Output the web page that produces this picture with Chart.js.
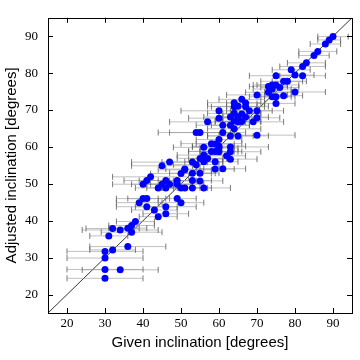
<!DOCTYPE html>
<html>
<head>
<meta charset="utf-8">
<script src="https://cdn.jsdelivr.net/npm/chart.js@4"></script>
<style>
html,body{margin:0;padding:0;background:#fff}
</style>
</head>
<body>
<canvas id="myChart" width="360" height="360"></canvas>
<script>
// given inclination (x), adjusted inclination (y), error on the given value
const givenIncl = [30,30,34,30,30,32,36,31,32,34,36,37,37,38,41,43,44,46,46,39,40,41,49,50,
  40,41,42,44,45,46,46,47,49,49,50,51,53,50,51,53,53,54,45,47,55,56,55,53,51,56,55,57,56,59,
  59,58,60,59,58,60,56,54,55,61,63,62,63,60,63,60,59,63,65,64,70,61,61,63,57,65,66,69,64,60,
  70,63,65,67,64,66,60,68,70,64,67,65,64,67,66,70,75,74,75,77,73,74,80,73,74,75,76,77,78,75,
  80,82,79,82,83,85,86,88,89,90];
const adjustedIncl = [24.4,26.8,26.7,29.9,31.7,32.1,33.0,35.9,37.9,37.5,38.0,38.7,36.9,39.8,
  43.8,42.9,41.1,43.8,41.9,44.9,46.0,46.0,46.0,44.9,49.9,50.9,51.9,48.9,49.9,50.9,48.9,49.9,
  50.9,49.9,48.9,48.9,48.9,52.8,53.8,50.9,55.9,55.2,54.9,55.9,50.8,48.9,52.9,52.9,54.0,56.0,
  56.9,56.9,57.8,56.0,54.0,58.8,59.7,58.8,60.9,62.0,59.9,63.9,63.9,54.1,56.7,57.6,58.7,58.7,
  60.0,60.2,60.8,63.0,63.0,64.9,63.2,63.9,65.9,65.9,66.8,66.8,66.9,66.8,67.0,67.8,67.9,68.1,
  68.1,68.1,69.1,68.9,69.8,69.8,69.8,70.9,70.9,71.0,72.0,71.9,72.9,74.1,71.8,73.6,73.6,73.9,
  74.8,75.7,74.9,76.4,76.8,76.8,76.1,77.8,77.8,79.3,79.5,79.3,80.9,81.8,82.8,84.8,85.9,87.9,
  89.0,89.9];
const givenErr = [10,10,10,10,10,6,10,5,7,10,5,6,8,5,8,6,5,8,6,6,7,5,5,6,8,6,10,6,8,7,5,6,5,7,
  5,6,5,8,7,5,8,6,8,10,6,7,5,6,5,5,6,5,7,6,5,6,5,7,8,6,8,10,8,6,7,5,8,5,10,7,5,6,8,7,10,6,7,5,
  10,6,5,8,5,8,6,7,5,6,7,5,10,6,7,6,5,8,7,5,6,8,5,6,4,5,6,5,8,5,4,6,5,6,4,7,5,6,5,6,5,4,5,4,3,4];
const tickVals = [20,30,40,50,60,70,80,90];
const axisMin = 15;
const axisMax = 95;

let points = [];
let bars = [];
givenIncl.forEach((g, i) => {
  points.push({x: g, y: adjustedIncl[i]});
  bars.push({x: g - givenErr[i], y: adjustedIncl[i]});
  bars.push({x: g + givenErr[i], y: adjustedIncl[i]});
  bars.push({x: null, y: null});
});

// box round the plot with matplotlib-like inward ticks on all sides
const frameTicks = {
  id: 'frameTicks',
  afterDatasetsDraw(chart) {
    const c = chart.ctx;
    const a = chart.chartArea;
    const sx = chart.scales.x;
    const sy = chart.scales.y;
    c.save();
    c.strokeStyle = '#000';
    c.lineWidth = 1;
    c.strokeRect(Math.round(a.left) + 0.5, Math.round(a.top) + 0.5,
      Math.round(a.right - a.left), Math.round(a.bottom - a.top));
    c.beginPath();
    tickVals.forEach(v => {
      let px = Math.round(sx.getPixelForValue(v)) + 0.5;
      c.moveTo(px, a.bottom); c.lineTo(px, a.bottom - 5);
      c.moveTo(px, a.top); c.lineTo(px, a.top + 5);
      let py = Math.round(sy.getPixelForValue(v)) + 0.5;
      c.moveTo(a.left, py); c.lineTo(a.left + 5, py);
      c.moveTo(a.right, py); c.lineTo(a.right - 5, py);
    });
    c.stroke();
    c.restore();
  }
};

new Chart(document.getElementById('myChart'), {
  type: 'scatter',
  data: {
    datasets: [{
      data: points,
      backgroundColor: '#0000ff',
      borderColor: '#0000ff',
      pointRadius: 3.5,
      borderWidth: 0,
      order: 0
    }, {
      data: bars,
      showLine: true,
      borderColor: 'rgba(150,150,150,0.6)',
      borderWidth: 1,
      pointStyle: 'line',
      pointRotation: 90,
      pointRadius: 3,
      pointBorderColor: 'rgba(90,90,90,0.8)',
      pointBorderWidth: 1,
      order: 1
    }, {
      data: [{x: axisMin, y: axisMin}, {x: axisMax, y: axisMax}],
      showLine: true,
      borderColor: '#000',
      borderWidth: 0.8,
      pointRadius: 0,
      order: 2
    }]
  },
  options: {
    responsive: false,
    animation: false,
    layout: {padding: {top: 7, right: 8, left: 0, bottom: 0}},
    plugins: {legend: {display: false}, tooltip: {enabled: false}},
    scales: {
      x: {
        min: axisMin, max: axisMax,
        afterBuildTicks: s => { s.ticks = tickVals.map(v => ({value: v})); },
        afterFit: s => { s.height = 47; },
        grid: {display: false, drawTicks: false},
        border: {display: false},
        ticks: {color: '#000', padding: 3, font: {family: 'Liberation Serif', size: 13}},
        title: {display: true, text: 'Given inclination [degrees]', color: '#000',
          font: {family: 'Liberation Sans', size: 15}, padding: {top: 0, bottom: 8}}
      },
      y: {
        min: axisMin, max: axisMax,
        afterBuildTicks: s => { s.ticks = tickVals.map(v => ({value: v})); },
        afterFit: s => { s.width = 48; },
        grid: {display: false, drawTicks: false},
        border: {display: false},
        ticks: {color: '#000', padding: 10, font: {family: 'Liberation Serif', size: 13}},
        title: {display: true, text: 'Adjusted inclination [degrees]', color: '#000',
          font: {family: 'Liberation Sans', size: 15}, padding: {top: 3, bottom: 0}}
      }
    }
  },
  plugins: [frameTicks]
});
</script>
</body>
</html>
